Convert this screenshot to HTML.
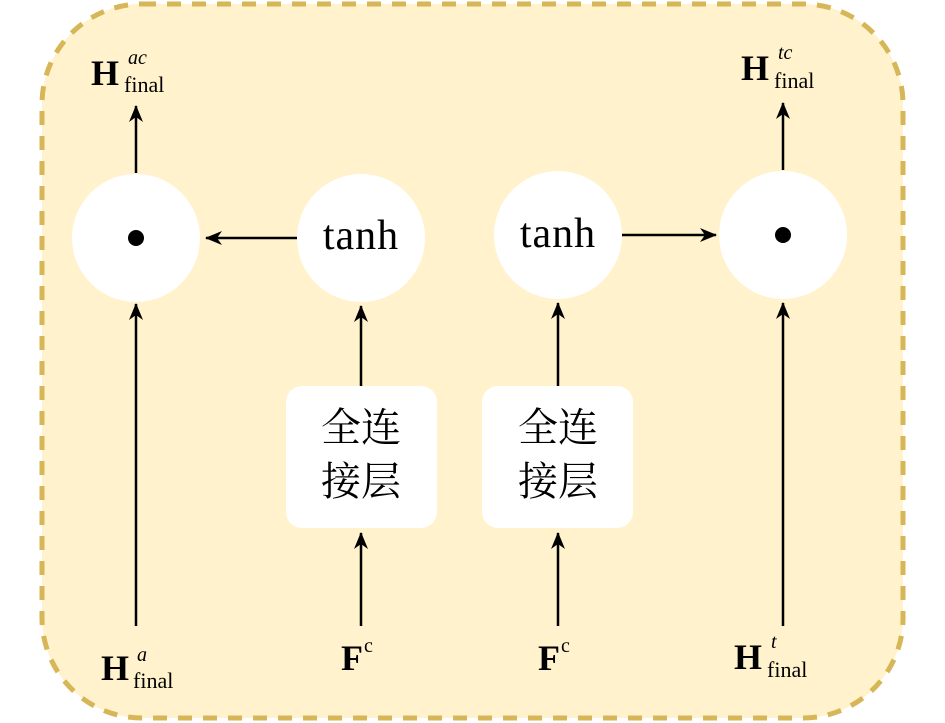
<!DOCTYPE html>
<html><head><meta charset="utf-8"><style>
body{margin:0;background:#fff;}
svg{display:block}
.m{font-family:"Liberation Serif",serif;}
.c{font-family:"Liberation Serif","Noto Serif CJK SC",serif;}
</style></head><body>
<svg width="945" height="723" viewBox="0 0 945 723" xmlns="http://www.w3.org/2000/svg">
<defs><marker id="a" markerWidth="20" markerHeight="16" refX="16" refY="8" orient="auto" markerUnits="userSpaceOnUse"><path d="M0,1 L17,8 L0,15 L5,8 Z" fill="#000"/></marker></defs>
<rect x="42" y="4" width="861" height="714" rx="100" fill="#fff2cc" stroke="#d6b656" stroke-width="5" stroke-dasharray="14,11"/>
<g fill="#fff">
<circle cx="136" cy="238" r="64"/><circle cx="361" cy="238" r="64"/>
<circle cx="558" cy="235" r="64"/><circle cx="783" cy="235" r="64"/>
<rect x="286" y="386" width="151" height="142" rx="16"/>
<rect x="482" y="386" width="151" height="142" rx="16"/>
</g>
<circle cx="136" cy="238" r="8" fill="#000"/><circle cx="783" cy="235" r="8" fill="#000"/>
<g stroke="#000" stroke-width="2.5" marker-end="url(#a)">
<line x1="136" y1="626" x2="136" y2="304"/>
<line x1="136" y1="173" x2="136" y2="106"/>
<line x1="297" y1="238" x2="206" y2="238"/>
<line x1="361" y1="386" x2="361" y2="306"/>
<line x1="361" y1="626" x2="361" y2="533"/>
<line x1="558" y1="386" x2="558" y2="303"/>
<line x1="558" y1="626" x2="558" y2="533"/>
<line x1="622" y1="235" x2="716" y2="235"/>
<line x1="783" y1="626" x2="783" y2="303"/>
<line x1="783" y1="170" x2="783" y2="103"/>
</g>
<g class="m" font-size="42" text-anchor="middle" letter-spacing="1">
<text x="361" y="249">tanh</text><text x="558" y="247">tanh</text>
</g>
<g class="c" font-size="40" text-anchor="middle">
<text x="361" y="441">全连</text><text x="361" y="495">接层</text>
<text x="558" y="441">全连</text><text x="558" y="495">接层</text>
</g>
<g class="m">
<text x="91" y="85" font-size="36" font-weight="bold">H</text><text x="128" y="64" font-size="20" font-style="italic">ac</text><text x="124" y="92" font-size="22">final</text>
<text x="741" y="80" font-size="36" font-weight="bold">H</text><text x="778" y="59" font-size="20" font-style="italic">tc</text><text x="774" y="88" font-size="22">final</text>
<text x="101" y="680" font-size="36" font-weight="bold">H</text><text x="137" y="661" font-size="20" font-style="italic">a</text><text x="133" y="688" font-size="22">final</text>
<text x="341" y="670" font-size="36" font-weight="bold">F</text><text x="364" y="652" font-size="20">c</text>
<text x="538" y="670" font-size="36" font-weight="bold">F</text><text x="561" y="652" font-size="20">c</text>
<text x="734" y="669" font-size="36" font-weight="bold">H</text><text x="771" y="648" font-size="20" font-style="italic">t</text><text x="767" y="677" font-size="22">final</text>
</g>
</svg>
</body></html>
